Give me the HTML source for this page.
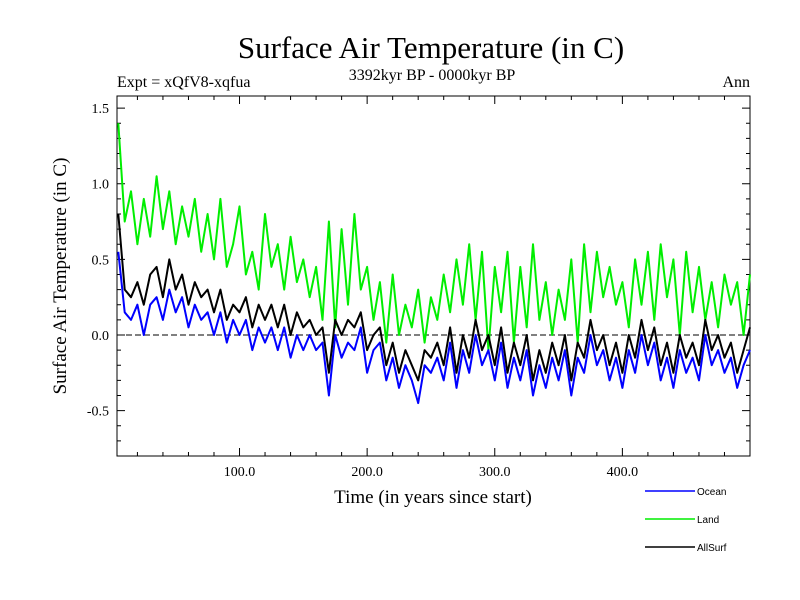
<!DOCTYPE html>
<html><head><meta charset="utf-8"><style>body{margin:0;background:#fff}svg{display:block}</style></head>
<body>
<svg id="chart" width="800" height="600" xmlns="http://www.w3.org/2000/svg" font-family="Liberation Serif, serif">
<text x="431" y="58" font-size="31" text-anchor="middle">Surface Air Temperature (in C)</text>
<text x="432" y="80" font-size="16" text-anchor="middle">3392kyr BP - 0000kyr BP</text>
<text x="117" y="87" font-size="16">Expt = xQfV8-xqfua</text>
<text x="750" y="87" font-size="16" text-anchor="end">Ann</text>
<text transform="translate(66,276) rotate(-90)" font-size="19" text-anchor="middle">Surface Air Temperature (in C)</text>
<text x="433" y="503" font-size="19" text-anchor="middle">Time (in years since start)</text>
<g id="axes"></g>
<g id="series"></g>
<g id="legend" font-family="Liberation Sans, sans-serif" font-size="10"></g>
</svg>
<script>
const landVals=[1.4,0.75,0.95,0.6,0.9,0.65,1.05,0.7,0.95,0.6,
0.85,0.65,0.9,0.55,0.8,0.5,0.9,0.45,0.6,0.85,
0.4,0.55,0.3,0.8,0.45,0.6,0.3,0.65,0.35,0.5,
0.25,0.45,0.1,0.75,0.05,0.7,0.2,0.8,0.3,0.45,
0.1,0.35,-0.05,0.4,0.0,0.2,0.05,0.3,-0.05,0.25,
0.1,0.4,0.15,0.5,0.2,0.6,0.1,0.55,-0.1,0.45,
0.15,0.55,-0.05,0.45,0.05,0.6,0.1,0.35,0.0,0.3,
0.1,0.5,-0.05,0.6,0.15,0.55,0.25,0.45,0.2,0.35,
0.05,0.5,0.2,0.55,0.1,0.6,0.25,0.5,0.0,0.55,
0.15,0.45,0.1,0.35,0.05,0.4,0.2,0.35,0.0,0.4];
const oceanVals=[0.55,0.15,0.1,0.2,0.0,0.2,0.25,0.1,0.3,0.15,
0.25,0.05,0.2,0.1,0.15,0.0,0.15,-0.05,0.1,0.0,
0.1,-0.1,0.05,-0.05,0.05,-0.1,0.05,-0.15,0.0,-0.1,
0.0,-0.1,-0.05,-0.4,0.0,-0.15,-0.05,-0.1,0.05,-0.25,
-0.1,-0.05,-0.3,-0.15,-0.35,-0.2,-0.3,-0.45,-0.2,-0.25,
-0.15,-0.3,-0.05,-0.35,-0.1,-0.25,0.0,-0.2,-0.1,-0.3,
-0.05,-0.35,-0.15,-0.3,-0.1,-0.4,-0.2,-0.35,-0.15,-0.3,
-0.1,-0.4,-0.15,-0.25,0.0,-0.2,-0.1,-0.3,-0.15,-0.35,
-0.1,-0.25,0.0,-0.2,-0.05,-0.3,-0.15,-0.35,-0.1,-0.25,
-0.15,-0.3,0.0,-0.2,-0.1,-0.25,-0.15,-0.35,-0.2,-0.1];
const allSurfVals=[0.8,0.3,0.25,0.35,0.2,0.4,0.45,0.25,0.5,0.3,
0.4,0.2,0.35,0.25,0.3,0.15,0.3,0.1,0.2,0.15,
0.25,0.05,0.2,0.1,0.2,0.05,0.2,0.0,0.15,0.05,
0.1,0.0,0.05,-0.25,0.1,0.0,0.1,0.05,0.15,-0.1,
0.0,0.05,-0.2,-0.05,-0.25,-0.1,-0.2,-0.3,-0.1,-0.15,
-0.05,-0.2,0.05,-0.25,0.0,-0.15,0.1,-0.1,0.0,-0.2,
0.05,-0.25,-0.05,-0.2,0.0,-0.3,-0.1,-0.25,-0.05,-0.2,
0.0,-0.3,-0.05,-0.15,0.1,-0.1,0.0,-0.2,-0.05,-0.25,
0.0,-0.15,0.1,-0.1,0.05,-0.2,-0.05,-0.25,0.0,-0.15,
-0.05,-0.2,0.1,-0.1,0.0,-0.15,-0.05,-0.25,-0.1,0.05];
const xTickVals=[100,200,300,400];
const xTickLabels=["100.0","200.0","300.0","400.0"];
const yTickVals=[-0.5,0,0.5,1.0,1.5];
const yTickLabels=["-0.5","0.0","0.5","1.0","1.5"];
const seriesNames=["Ocean","Land","AllSurf"];
const seriesColors=["#0000ff","#00ee00","#000000"];

const NS="http://www.w3.org/2000/svg";
const L=117,R=750,T=96,B=456,X0=4,X1=500,Y0=-0.8,Y1=1.58;
const sx=v=>L+(v-X0)/(X1-X0)*(R-L);
const sy=v=>B-(v-Y0)/(Y1-Y0)*(B-T);
const years=landVals.map((_,i)=>5*(i+1));
function mk(tag,attrs,parent){const e=document.createElementNS(NS,tag);for(const k in attrs)e.setAttribute(k,attrs[k]);parent.appendChild(e);return e;}
const axes=document.getElementById('axes');
const frame=mk('rect',{x:L,y:T,width:R-L,height:B-T,fill:'none',stroke:'#000','stroke-width':1},axes);


const zl=mk('line',{x1:L,x2:R,y1:sy(0),y2:sy(0),stroke:'#000','stroke-width':1,'stroke-dasharray':'6,3'},axes);


for(let v=20;v<500;v+=20){const x=sx(v);const len=(v%100===0)?8:4;
 const t=mk('path',{d:`M${x},${B}v${-len}M${x},${T}v${len}`,stroke:'#000','stroke-width':1},axes);
 
 }
xTickVals.forEach((v,i)=>{const t=mk('text',{x:sx(v),y:B+20,'font-size':14,'text-anchor':'middle'},axes);t.textContent=xTickLabels[i];
 
 });
for(let k=-7;k<=15;k++){const v=k/10;const y=sy(v);const len=(k%5===0)?8:4;
 const t=mk('path',{d:`M${L},${y}h${len}M${R},${y}h${-len}`,stroke:'#000','stroke-width':1},axes);
 
 }
yTickVals.forEach((v,i)=>{const t=mk('text',{x:L-8,y:sy(v)+5,'font-size':14,'text-anchor':'end'},axes);t.textContent=yTickLabels[i];
 
 });
const ser=document.getElementById('series');
const dataSets=[oceanVals,landVals,allSurfVals];
[1,0,2].forEach(i=>{const vals=dataSets[i];
 const d=vals.map((v,j)=>(j?'L':'M')+sx(years[j]).toFixed(1)+','+sy(v).toFixed(1)).join('');
 const p=mk('path',{d:d,fill:'none',stroke:seriesColors[i],'stroke-width':2,'stroke-linejoin':'round'},ser);
 
 });
const lg=document.getElementById('legend');
seriesNames.forEach((n,i)=>{const y=491+28*i;
 const l=mk('line',{x1:645,x2:695,y1:y,y2:y,stroke:seriesColors[i],'stroke-width':1.5},lg);
 
 
 const t=mk('text',{x:697,y:y+4},lg);t.textContent=n;
 
 });
</script>
</body></html>
